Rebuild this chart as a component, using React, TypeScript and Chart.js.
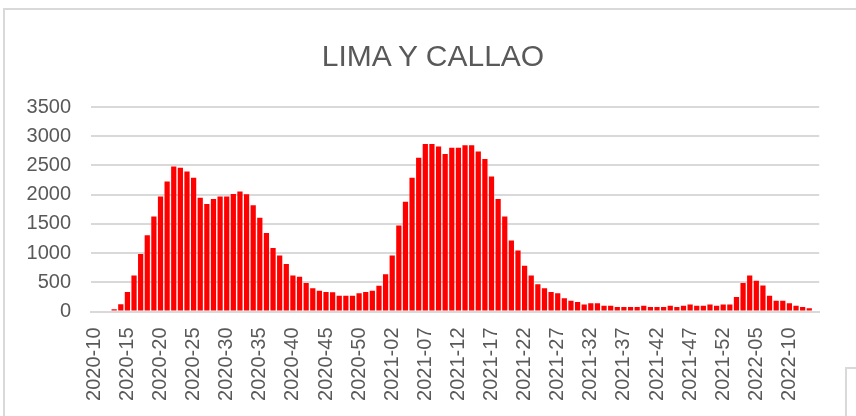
import React, { useEffect, useRef } from "react";
import { Chart, registerables } from "chart.js";

Chart.register(...registerables);

// ISO week ranges covered by the chart: [year, first week, last week]
const weekRanges: [number, number, number][] = [
  [2020, 10, 53],
  [2021, 1, 52],
  [2022, 1, 14],
];

// Weekly values per year
const values2020: (number | null)[] = [
  0, 0, 0, 38, 123, 334, 614, 983, 1306, 1625,
  1968, 2225, 2482, 2460, 2396, 2288, 1945, 1840, 1925, 1968,
  1968, 2010, 2054, 2008, 1817, 1605, 1345, 1085, 960, 811,
  617, 594, 489, 400, 357, 332, 330, 271, 271, 271,
  311, 334, 357, 440,
];
const values2021: (number | null)[] = [
  637, 957, 1471, 1880, 2288, 2631, 2866, 2866, 2825, 2697,
  2802, 2802, 2845, 2845, 2739, 2608, 2310, 1925, 1625, 1217,
  1045, 785, 614, 466, 397, 334, 311, 226, 185, 163,
  120, 143, 143, 100, 100, 77, 77, 77, 77, 100,
  77, 77, 77, 100, 77, 100, 120, 100, 100, 120,
  100, 120,
];
const values2022: (number | null)[] = [
  120, 249, 489, 617, 528, 443, 271, 185, 185, 140,
  100, 77, 54, null,
];

const yTicksMax = 3500;
const yTicksStep = 500;
const labelEvery = 5;
const titleText = "LIMA Y CALLAO";

const labels: string[] = [];
weekRanges.forEach(([year, from, to]) => {
  for (let w = from; w <= to; w++) {
    labels.push(`${year}-${String(w).padStart(2, "0")}`);
  }
});
const values = [...values2020, ...values2021, ...values2022];

const font = "'Liberation Sans', Arial, sans-serif";

export default function App() {
  const canvasRef = useRef<HTMLCanvasElement | null>(null);

  useEffect(() => {
    if (!canvasRef.current) return;
    const chart = new Chart(canvasRef.current, {
      type: "bar",
      data: {
        labels,
        datasets: [
          {
            data: values,
            backgroundColor: "#ff0000",
            borderWidth: 0,
            barPercentage: 0.79,
            categoryPercentage: 1,
          },
        ],
      },
      options: {
        animation: false,
        responsive: false,
        maintainAspectRatio: false,
        layout: { padding: { left: 0, right: 23, top: 0, bottom: 0 } },
        plugins: {
          legend: { display: false },
          tooltip: { enabled: false },
          title: {
            // spacing only; the visible title is drawn as HTML text centred on the frame
            display: true,
            text: titleText,
            color: "rgba(0,0,0,0)",
            font: { family: font, size: 30, weight: "normal" },
            padding: { top: 37, bottom: 34 },
          },
        },
        scales: {
          x: {
            type: "category",
            grid: { display: false, drawTicks: false },
            border: { display: true, color: "#d9d9d9", width: 2 },
            ticks: {
              autoSkip: false,
              minRotation: 90,
              maxRotation: 90,
              padding: 16,
              color: "#595959",
              font: { family: font, size: 20 },
              callback: (_v: any, i: number) => (i % labelEvery === 0 ? labels[i] : ""),
            },
            afterFit: (scale: any) => {
              scale.height = 104.5;
            },
          },
          y: {
            min: 0,
            max: yTicksMax,
            grid: { color: "#d9d9d9", lineWidth: 2, drawTicks: false },
            border: { display: false },
            ticks: {
              stepSize: yTicksStep,
              padding: 20,
              color: "#595959",
              font: { family: font, size: 20 },
              callback: (v: any) => String(v),
            },
            afterFit: (scale: any) => {
              scale.width = 91;
            },
          },
        },
      },
    });
    return () => chart.destroy();
  }, []);

  return (
    <div
      style={{
        position: "fixed",
        left: 0,
        top: 0,
        width: 856,
        height: 416,
        background: "#ffffff",
        overflow: "hidden",
      }}
    >
      <div
        style={{
          position: "absolute",
          left: 3,
          top: 8,
          width: 900,
          height: 500,
          borderLeft: "2px solid #d9d9d9",
          borderTop: "2px solid #d9d9d9",
          pointerEvents: "none",
        }}
      />
      <div
        style={{
          position: "absolute",
          left: 845,
          top: 367,
          width: 40,
          height: 80,
          borderLeft: "2px solid #d9d9d9",
          borderTop: "2px solid #d9d9d9",
          pointerEvents: "none",
        }}
      />
      <canvas
        ref={canvasRef}
        width={856}
        height={416}
        style={{ position: "absolute", left: 0, top: 0, width: 856, height: 416 }}
      />
      <div
        style={{
          position: "absolute",
          left: 0,
          top: 39,
          width: 866,
          textAlign: "center",
          fontFamily: font,
          fontSize: 30,
          lineHeight: "34px",
          color: "#595959",
          whiteSpace: "nowrap",
          pointerEvents: "none",
        }}
      >
        {titleText}
      </div>
    </div>
  );
}
